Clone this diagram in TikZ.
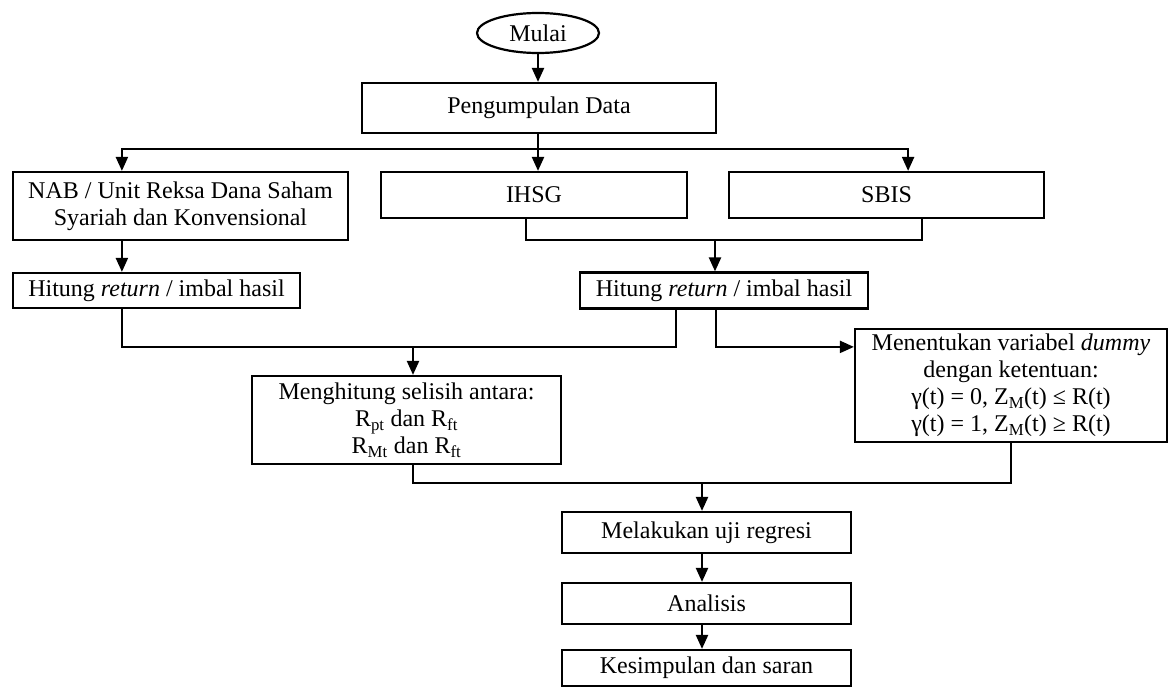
\documentclass[tikz,border=0pt]{standalone}
\usepackage{fontspec}
\setmainfont{Liberation Serif}
\usetikzlibrary{shapes.geometric,arrows.meta}
\tikzset{
  box/.style={draw, line width=2.2pt, rectangle, inner sep=0pt, align=center,
    font=\fontsize{24}{27}\selectfont},
  arr/.style={line width=2.2pt, -{Triangle[length=14pt,width=12pt]}},
  ln/.style={line width=2.2pt}
}
\begin{document}
\begin{tikzpicture}[x=1pt,y=-1pt]
\useasboundingbox (0,0) rectangle (1172,688);
\fill[white] (0,0) rectangle (1172,688);
\node[draw, line width=2.2pt, ellipse, inner sep=0pt, minimum width=122pt, minimum height=40pt,
  font=\fontsize{24}{27}\selectfont] (mulai) at (538,33) {Mulai};
\node[box, minimum width=354pt, minimum height=50pt] (peng) at (539,108) {Pengumpulan Data};
\node[box, minimum width=335pt, minimum height=68pt] (nab) at (180.5,206) {NAB / Unit Reksa Dana Saham\\Syariah dan Konvensional};
\node[box, minimum width=306pt, minimum height=46pt] (ihsg) at (534,195) {IHSG};
\node[box, minimum width=315pt, minimum height=46pt] (sbis) at (886.5,195) {SBIS};
\node[box, minimum width=287pt, minimum height=35pt] (hit1) at (156.5,290.5) {Hitung \textit{return} / imbal hasil};
\node[box, minimum width=288pt, minimum height=36pt] (hit2) at (724,290.5) {Hitung \textit{return} / imbal hasil};
\node[box, minimum width=309pt, minimum height=88pt] (meng) at (406.5,420) {Menghitung selisih antara:\\R\textsubscript{pt} dan R\textsubscript{ft}\\R\textsubscript{Mt} dan R\textsubscript{ft}};
\node[box, minimum width=312pt, minimum height=113pt] (menen) at (1011,385.5) {Menentukan variabel \textit{dummy}\\dengan ketentuan:\\γ(t) = 0, Z\textsubscript{M}(t) ≤ R(t)\\γ(t) = 1, Z\textsubscript{M}(t) ≥ R(t)};
\node[box, minimum width=289pt, minimum height=41pt] (mel) at (706.5,532.5) {Melakukan uji regresi};
\node[box, minimum width=289pt, minimum height=41pt] (ana) at (706.5,603.5) {Analisis};
\node[box, minimum width=289pt, minimum height=36pt] (kes) at (706.5,668) {Kesimpulan dan saran};

\coordinate (j1) at (538,149);
\coordinate (j2) at (715,240);
\coordinate (j3) at (413,347);
\coordinate (j4) at (702,483);

\draw[arr] (mulai.south) -- (mulai.south |- peng.north);
\draw[ln] (peng.south -| j1) -- (j1);
\draw[arr] (j1) -| ([xshift=110pt]nab.north west);
\draw[arr] (j1) -| ([xshift=-137pt]sbis.north east);
\draw[arr] (j1) -- (j1 |- ihsg.north);

\draw[ln] ([xshift=-8pt]ihsg.south) |- (j2) -| ([xshift=35.5pt]sbis.south);
\draw[arr] (j2) -- (j2 |- hit2.north);

\coordinate (n1) at ([xshift=110pt]nab.south west);
\draw[arr] (n1) -- (n1 |- hit1.north);

\draw[ln] ([xshift=110pt]hit1.south west) |- (j3) -| ([xshift=-48pt]hit2.south);
\draw[arr] (j3) -- (j3 |- meng.north);
\draw[arr] ([xshift=-8pt]hit2.south) |- ([yshift=-19pt]menen.north west);

\draw[ln] ([xshift=6.5pt]meng.south) |- (j4) -| (menen.south);
\draw[arr] (j4) -- (j4 |- mel.north);
\draw[arr] (mel.south -| j4) -- (ana.north -| j4);
\draw[arr] (ana.south -| j4) -- (kes.north -| j4);
\end{tikzpicture}
\end{document}
